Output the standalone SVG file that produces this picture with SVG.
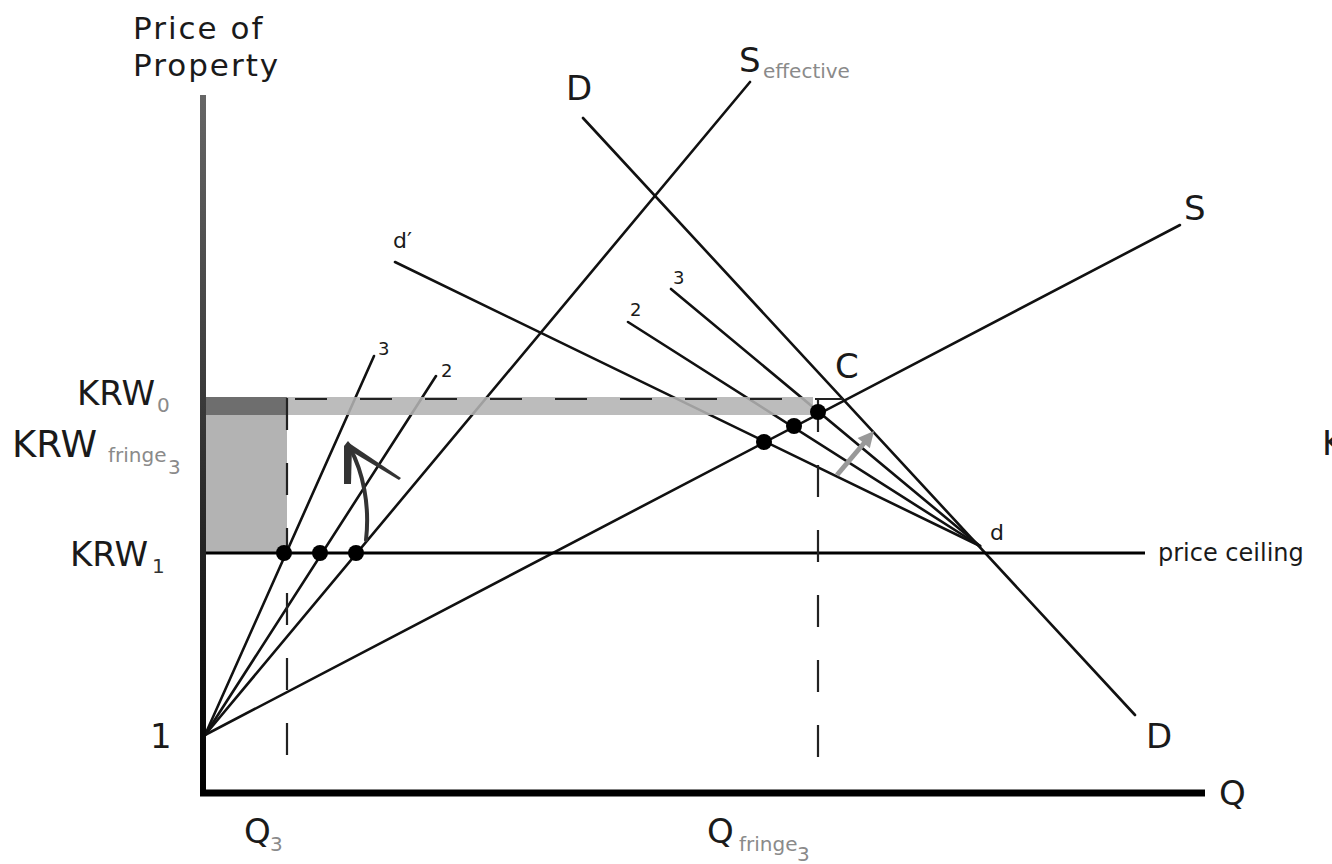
<svg xmlns="http://www.w3.org/2000/svg" width="1332" height="864" viewBox="0 0 1332 864">
<style>
.t{font-family:"DejaVu Sans","Liberation Sans",sans-serif;fill:#1a1a1a}
.big{font-size:34px}
.sub{font-size:20px;fill:#8a8a8a}
.sm{font-size:18px}
.ln{stroke:#111;stroke-width:2.6;fill:none;stroke-linecap:round}
.dash{stroke:#222;stroke-width:2.2;stroke-dasharray:32 33;fill:none}
.dot{fill:#000}
</style>
<defs>
<linearGradient id="yg" gradientUnits="userSpaceOnUse" x1="0" y1="95" x2="0" y2="796">
<stop offset="0" stop-color="#666"/>
<stop offset="1" stop-color="#000"/>
</linearGradient>
</defs>
<rect width="1332" height="864" fill="#fff"/>

<g id="shading">
<rect x="206" y="415" width="81" height="138" fill="#b3b3b3"/>
</g>

<g id="connectors">
<line class="ln" x1="205" y1="735" x2="374" y2="356"/>
<line class="ln" x1="205" y1="735" x2="436" y2="376"/>
<line class="ln" x1="205" y1="735" x2="750" y2="82"/>
<line class="ln" x1="205" y1="735" x2="1180" y2="225"/>
<line class="ln" x1="583" y1="118" x2="1135" y2="715"/>
<line class="ln" x1="395" y1="262" x2="980" y2="546"/>
<line class="ln" x1="628" y1="322" x2="980" y2="546"/>
<line class="ln" x1="671" y1="289" x2="980" y2="546"/>
<line x1="206" y1="553" x2="1145" y2="553" stroke="#000" stroke-width="3.2"/>
</g>

<g id="band">
<rect x="206" y="397" width="607" height="18" fill="#b3b3b3" opacity="0.88"/>
<rect x="206" y="397" width="81" height="18" fill="#6e6e6e"/>
<line class="dash" x1="295" y1="399" x2="843" y2="399"/>
<line class="dash" x1="287" y1="398" x2="287" y2="760"/>
<line class="dash" x1="818" y1="400" x2="818" y2="760"/>
</g>

<g id="axes">
<rect x="200" y="95" width="6" height="701" fill="url(#yg)"/>
<line x1="200" y1="793" x2="1205" y2="793" stroke="#000" stroke-width="7"/>
</g>

<g id="dots">
<circle class="dot" cx="284" cy="553" r="8"/>
<circle class="dot" cx="320" cy="553" r="8"/>
<circle class="dot" cx="356" cy="553" r="8"/>
<circle class="dot" cx="764" cy="442" r="8"/>
<circle class="dot" cx="794" cy="426" r="8"/>
<circle class="dot" cx="818" cy="412" r="8"/>
</g>

<g id="arrows">
<path d="M366,540 C370,505 363,472 350,448" stroke="#333" stroke-width="4" fill="none" stroke-linecap="round"/>
<path d="M344,484 L344,446 L348,441 L352,446 L351,484 Z" fill="#333"/>
<path d="M349,443 L401,478 L399,480 L349,450 Z" fill="#333"/>
<line x1="837" y1="475" x2="865" y2="442" stroke="#999" stroke-width="5"/>
<polygon points="874,431 869.8,448.3 857.6,438.1" fill="#999"/>
</g>

<g id="labels">
<text class="t" x="133" y="39" font-size="31" letter-spacing="2">Price of</text>
<text class="t" x="133" y="76" font-size="31" letter-spacing="2">Property</text>
<text class="t big" x="566" y="100">D</text>
<text class="t big" x="739" y="72">S</text>
<text class="t sub" x="763" y="78">effective</text>
<text class="t big" x="1184" y="220">S</text>
<text class="t" x="393" y="248" font-size="22">d′</text>
<text class="t big" x="835" y="378">C</text>
<text class="t" x="990" y="540" font-size="22">d</text>
<text class="t" x="1158" y="561" font-size="24">price ceiling</text>
<text class="t big" x="1322" y="455">K</text>
<text class="t big" x="1146" y="748">D</text>
<text class="t big" x="1219" y="805">Q</text>
<text class="t sm" x="378" y="355">3</text>
<text class="t sm" x="441" y="377">2</text>
<text class="t sm" x="630" y="316">2</text>
<text class="t sm" x="673" y="284">3</text>
<text class="t big" x="77" y="405">KRW</text>
<text class="t sub" x="157" y="412">0</text>
<text class="t" x="12" y="457" font-size="37">KRW</text>
<text class="t sub" x="108" y="462">fringe</text>
<text class="t sub" x="168" y="474">3</text>
<text class="t big" x="70" y="566">KRW</text>
<text class="t sub" x="152" y="573" style="fill:#333">1</text>
<text class="t big" x="150" y="748">1</text>
<text class="t big" x="244" y="843">Q</text>
<text class="t sub" x="270" y="851">3</text>
<text class="t big" x="707" y="843">Q</text>
<text class="t sub" x="739" y="851">fringe</text>
<text class="t sub" x="797" y="861" font-size="18">3</text>
</g>
</svg>
